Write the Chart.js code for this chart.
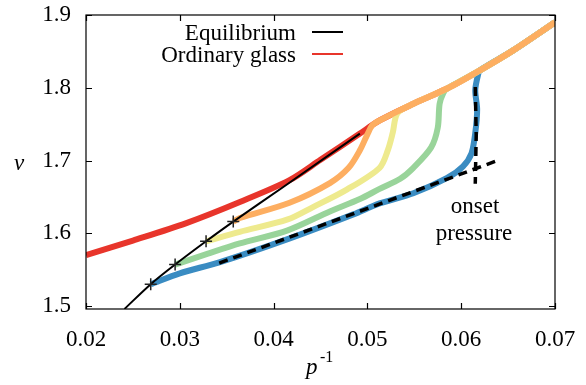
<!DOCTYPE html>
<html>
<head>
<meta charset="utf-8">
<script src="https://cdn.jsdelivr.net/npm/chart.js"></script>
<style>
  html, body { margin: 0; padding: 0; background: #fff; }
  #wrap { width: 586px; height: 385px; position: relative; }
</style>
</head>
<body>
<div id="wrap"><canvas id="glassChart"></canvas></div>
<script>
// Graduations des axes
const xTicks = [0.02, 0.03, 0.04, 0.05, 0.06, 0.07];
const yTicks = [1.5, 1.6, 1.7, 1.8, 1.9];

// Courbe d'equilibre (noire)
const eqX = [0.0241, 0.0269, 0.0295, 0.0328, 0.0357, 0.0413, 0.0492];
const eqV = [1.496, 1.530, 1.557, 1.589, 1.616, 1.666, 1.737];

// Points de depart (croix)
const crossX = [0.0269, 0.0295, 0.0328, 0.0357];
const crossV = [1.530, 1.557, 1.589, 1.616];

// Verre ordinaire (rouge)
const redX = [0.020, 0.025, 0.0307, 0.0364, 0.0417, 0.045, 0.0492, 0.0513, 0.0549, 0.0585, 0.0620, 0.0655, 0.0700];
const redV = [1.570, 1.590, 1.614, 1.643, 1.673, 1.701, 1.737, 1.755, 1.778, 1.799, 1.824, 1.851, 1.890];

// Compressions depuis les points d'equilibre
const orangeX = [0.0357, 0.0364, 0.0417, 0.0460, 0.0480, 0.0492, 0.0500, 0.0505, 0.0513, 0.0549, 0.0585, 0.0620, 0.0655, 0.0700];
const orangeV = [1.616, 1.621, 1.642, 1.669, 1.690, 1.714, 1.736, 1.748, 1.755, 1.778, 1.799, 1.824, 1.851, 1.890];

const yellowX = [0.0328, 0.0364, 0.0415, 0.0442, 0.0478, 0.0513, 0.0522, 0.0527, 0.0532, 0.0549, 0.0585, 0.0620, 0.0655, 0.0700];
const yellowV = [1.589, 1.602, 1.619, 1.636, 1.660, 1.690, 1.715, 1.738, 1.765, 1.778, 1.799, 1.824, 1.851, 1.890];

const greenX = [0.0295, 0.0330, 0.0364, 0.0415, 0.0460, 0.0492, 0.0513, 0.0535, 0.0549, 0.0568, 0.0575, 0.0577, 0.0581, 0.0585, 0.0620, 0.0655, 0.0700];
const greenV = [1.557, 1.572, 1.586, 1.604, 1.630, 1.647, 1.661, 1.675, 1.690, 1.718, 1.745, 1.778, 1.793, 1.799, 1.824, 1.851, 1.890];

const blueX = [0.0269, 0.0300, 0.0342, 0.0415, 0.0485, 0.0513, 0.0549, 0.0585, 0.0602, 0.0611, 0.0615, 0.0617, 0.0615, 0.0618, 0.0620, 0.0655, 0.0700];
const blueV = [1.530, 1.545, 1.560, 1.592, 1.626, 1.641, 1.655, 1.676, 1.692, 1.710, 1.738, 1.770, 1.797, 1.818, 1.824, 1.851, 1.890];

// Lignes pointillees (pression de debut)
const dashX = [0.0342, 0.0641];
const dashV = [1.559, 1.701];
const onsetX = [0.0615, 0.0616, 0.0615];
const onsetV = [1.801, 1.735, 1.668];

const FONT = "'Liberation Serif', 'Times New Roman', serif";

function toPoints(xs, ys) {
    return xs.map((x, i) => ({ x: x, y: ys[i] }));
}

function curve(xs, ys, color, width, order) {
    return {
        data: toPoints(xs, ys),
        showLine: true,
        borderColor: color,
        backgroundColor: color,
        borderWidth: width,
        pointRadius: 0,
        tension: 0.3,
        order: order
    };
}

// Cadre, graduations internes, legende et annotations
const decorPlugin = {
    id: 'decor',
    afterDatasetsDraw(chart) {
        const { ctx, chartArea: a, scales } = chart;
        const sx = scales.x, sy = scales.y;
        ctx.save();
        ctx.strokeStyle = '#000';
        ctx.lineWidth = 1.2;
        ctx.strokeRect(a.left, a.top, a.right - a.left, a.bottom - a.top);

        ctx.beginPath();
        xTicks.forEach(v => {
            const px = Math.round(sx.getPixelForValue(v)) + 0.5;
            ctx.moveTo(px, a.bottom); ctx.lineTo(px, a.bottom - 6);
            ctx.moveTo(px, a.top); ctx.lineTo(px, a.top + 6);
        });
        yTicks.forEach(v => {
            const py = Math.round(sy.getPixelForValue(v)) + 0.5;
            ctx.moveTo(a.left, py); ctx.lineTo(a.left + 6, py);
            ctx.moveTo(a.right, py); ctx.lineTo(a.right - 6, py);
        });
        ctx.stroke();

        // legende
        ctx.fillStyle = '#000';
        ctx.font = '23px ' + FONT;
        ctx.textAlign = 'right';
        ctx.textBaseline = 'alphabetic';
        ctx.fillText('Equilibrium', 296, 40);
        ctx.fillText('Ordinary glass', 296, 62);
        ctx.lineWidth = 2;
        ctx.beginPath();
        ctx.strokeStyle = '#000';
        ctx.moveTo(312, 32); ctx.lineTo(343, 32);
        ctx.stroke();
        ctx.beginPath();
        ctx.strokeStyle = '#e8352b';
        ctx.moveTo(312, 54); ctx.lineTo(343, 54);
        ctx.stroke();

        // annotation
        ctx.textAlign = 'center';
        ctx.fillText('onset', 475, 213);
        ctx.fillText('pressure', 474, 240);

        // titres des axes
        ctx.font = 'italic 23px ' + FONT;
        ctx.textAlign = 'left';
        ctx.fillText('v', 14, 170);
        ctx.fillText('p', 306, 374);
        ctx.font = '16px ' + FONT;
        ctx.fillText('-1', 320, 362);
        ctx.restore();
    }
};

const ctx = document.getElementById('glassChart');

new Chart(ctx, {
    type: 'scatter',
    data: {
        datasets: [
            curve(dashX, dashV, '#000', 3.5, 0),
            curve(onsetX, onsetV, '#000', 3.5, 0),
            {
                data: toPoints(crossX, crossV),
                pointStyle: 'cross',
                pointRadius: 6,
                borderWidth: 1.5,
                borderColor: '#222',
                order: 1
            },
            curve(eqX, eqV, '#000', 2, 2),
            curve(orangeX, orangeV, '#fdae61', 6, 3),
            curve(yellowX, yellowV, '#eeea8e', 6, 4),
            curve(greenX, greenV, '#99d49a', 6, 5),
            curve(blueX, blueV, '#3a8cc2', 6, 6),
            curve(redX, redV, '#e8352b', 6, 7)
        ].map((d, i) => (i < 2 ? Object.assign(d, { borderDash: [9, 6], tension: 0 }) : d))
    },
    options: {
        responsive: true,
        maintainAspectRatio: false,
        animation: false,
        devicePixelRatio: 1,
        layout: { padding: { top: 15, right: 31, left: 0, bottom: 0 } },
        plugins: {
            legend: { display: false },
            tooltip: { enabled: false }
        },
        scales: {
            x: {
                type: 'linear',
                min: 0.02,
                max: 0.07,
                afterBuildTicks: scale => { scale.ticks = xTicks.map(v => ({ value: v })); },
                afterFit: scale => {
                    scale.height = 76;
                    scale.paddingLeft = 0;
                    scale.paddingRight = 0;
                },
                grid: { display: false, drawTicks: false },
                border: { display: false },
                ticks: {
                    padding: 17,
                    color: '#000',
                    font: { family: FONT, size: 23 },
                    maxRotation: 0,
                    callback: v => v.toFixed(2)
                }
            },
            y: {
                type: 'linear',
                min: 1.4959,
                max: 1.9,
                afterBuildTicks: scale => { scale.ticks = yTicks.map(v => ({ value: v })); },
                afterFit: scale => {
                    scale.width = 86;
                    scale.paddingTop = 0;
                    scale.paddingBottom = 0;
                },
                grid: { display: false, drawTicks: false },
                border: { display: false },
                ticks: {
                    padding: 15,
                    color: '#000',
                    font: { family: FONT, size: 23 },
                    callback: v => v.toFixed(1)
                }
            }
        }
    },
    plugins: [decorPlugin]
});
</script>
</body>
</html>
